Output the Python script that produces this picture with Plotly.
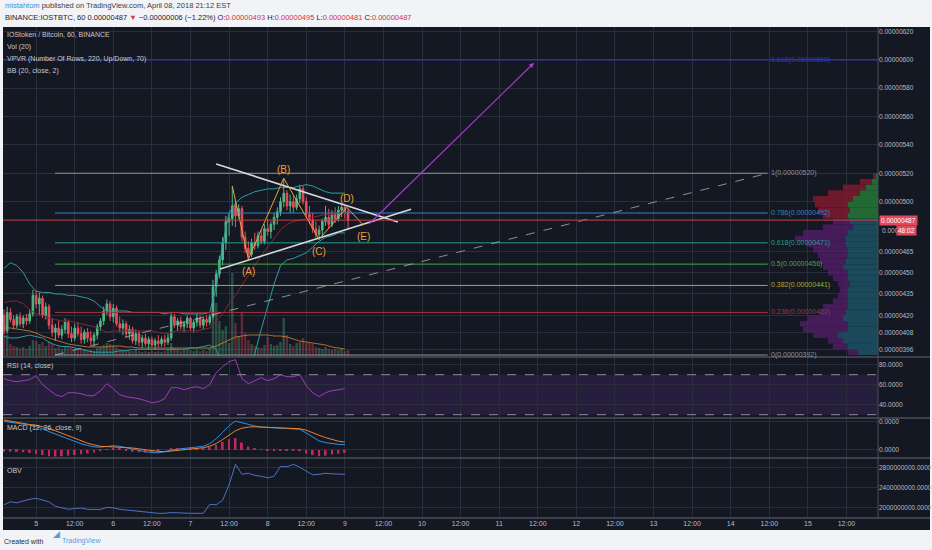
import plotly.graph_objects as go

W, H = 932, 550

# Velas de 1h; el eje x son horas desde el 5 de abril 00:00
hours = list(range(-10, 98))
opens = [420, 409, 422, 417, 413, 419, 414, 418, 416, 421,
         434, 428, 432, 420, 426, 413, 408, 411, 406, 410,
         415, 407, 404, 411, 407, 403, 408, 404, 402, 406,
         412, 416, 423, 428, 419, 425, 414, 411, 414, 407,
         410, 402, 407, 401, 404, 400, 403, 399, 402, 400,
         403, 401, 404, 419, 413, 416, 412, 414, 418, 411,
         415, 418, 413, 417, 415, 419, 440, 449, 459, 471,
         486, 488, 497, 490, 495, 475, 467, 463, 471, 469,
         476, 472, 481, 479, 484, 489, 493, 500, 506, 497,
         500, 496, 502, 509, 500, 491, 487, 481, 477, 480,
         486, 489, 484, 491, 488, 494, 496, 493]
highs = [424, 426, 425, 420, 421, 422, 420, 421, 424, 438,
         437, 436, 434, 429, 428, 418, 414, 416, 413, 418,
         417, 412, 414, 415, 412, 410, 411, 409, 408, 414,
         418, 426, 431, 430, 428, 427, 419, 417, 416, 413,
         412, 410, 409, 406, 407, 405, 405, 404, 406, 405,
         406, 407, 422, 421, 418, 419, 416, 420, 419, 417,
         421, 420, 419, 420, 421, 445, 452, 462, 475, 490,
         491, 511, 500, 498, 497, 479, 472, 474, 478, 479,
         480, 484, 488, 486, 492, 496, 503, 516, 508, 505,
         504, 505, 512, 511, 503, 497, 492, 486, 483, 488,
         497, 495, 494, 496, 497, 498, 497, 495]
lows = [407, 407, 415, 410, 411, 412, 411, 413, 414, 419,
        425, 420, 418, 417, 410, 405, 402, 404, 403, 407,
        404, 401, 402, 405, 400, 400, 401, 399, 398, 403,
        409, 413, 420, 416, 415, 412, 408, 406, 404, 403,
        400, 399, 398, 397, 398, 396, 397, 396, 397, 398,
        398, 399, 402, 411, 409, 410, 408, 411, 409, 408,
        412, 411, 410, 412, 413, 417, 433, 446, 455, 466,
        476, 483, 482, 488, 472, 464, 459, 461, 466, 467,
        470, 470, 476, 474, 480, 484, 490, 496, 494, 492,
        492, 494, 499, 498, 488, 484, 478, 474, 473, 476,
        483, 481, 482, 485, 486, 489, 488, 481]
closes = [409, 422, 417, 413, 419, 414, 418, 416, 421, 434,
          428, 432, 420, 426, 413, 408, 411, 406, 410, 415,
          407, 404, 411, 407, 403, 408, 404, 402, 406, 412,
          416, 423, 428, 419, 425, 414, 411, 414, 407, 410,
          402, 407, 401, 404, 400, 403, 399, 402, 400, 403,
          401, 404, 419, 413, 416, 412, 414, 418, 411, 415,
          418, 413, 417, 415, 419, 440, 449, 459, 471, 486,
          488, 497, 490, 495, 475, 467, 463, 471, 469, 476,
          472, 481, 479, 484, 489, 493, 500, 506, 497, 500,
          496, 502, 509, 500, 491, 487, 481, 477, 480, 486,
          489, 484, 491, 488, 494, 496, 493, 487]
volumes = [26, 21, 12, 10, 9, 8, 9, 7, 10, 16,
           15, 12, 14, 10, 15, 12, 8, 9, 7, 10,
           9, 8, 7, 6, 6, 7, 5, 6, 5, 8,
           9, 11, 13, 12, 10, 9, 7, 6, 6, 5,
           5, 6, 5, 4, 5, 4, 5, 4, 5, 4,
           5, 6, 13, 8, 6, 5, 6, 7, 6, 5,
           6, 5, 6, 5, 8, 43, 53, 35, 26, 30,
           13, 83, 33, 20, 44, 23, 16, 12, 10, 9,
           8, 11, 19, 12, 10, 11, 14, 38, 21, 12,
           10, 13, 14, 18, 13, 13, 12, 9, 8, 7,
           9, 7, 6, 7, 6, 7, 5, 6]

# Indicadores leídos cada 2 horas
ind_hours = list(range(-10, 98, 2))
vol_ma = [28, 28, 27, 26, 25, 23, 20, 18, 16, 14,
          12, 11, 10, 9, 9, 9, 9, 10, 10, 9,
          9, 8, 8, 8, 8, 8, 8, 8, 8, 8,
          8, 8, 8, 10, 13, 16, 19, 20, 21, 21,
          21, 21, 20, 20, 19, 17, 15, 14, 13, 12,
          11, 9, 8, 7]
bb_upper = [453, 457, 455, 450, 442, 437, 436, 436, 435, 435,
            434, 434, 433, 432, 430, 426, 423, 423, 423, 423,
            422, 422, 422, 422, 422, 421, 422, 422, 421, 421,
            421, 421, 422, 440, 470, 492, 499, 503, 505, 507,
            508, 509, 509, 510, 510, 510, 511, 512, 511, 509,
            507, 506, 506, 506]
bb_basis = [429, 430, 430, 428, 424, 421, 420, 418, 417, 416,
            416, 415, 414, 413, 412, 410, 408, 409, 409, 409,
            409, 409, 409, 409, 408, 407, 408, 409, 409, 409,
            409, 410, 411, 416, 421, 428, 434, 441, 448, 455,
            462, 468, 474, 480, 484, 486, 487, 488, 489, 490,
            491, 491, 492, 492]
bb_lower = [405, 404, 404, 405, 406, 405, 404, 401, 399, 398,
            398, 397, 396, 395, 394, 394, 394, 394, 395, 395,
            396, 396, 396, 396, 396, 396, 396, 396, 396, 397,
            397, 398, 399, 396, 385, 375, 372, 374, 381, 393,
            410, 426, 442, 455, 459, 460, 462, 464, 468, 472,
            475, 476, 478, 478]
rsi = [66, 64, 63, 64, 65, 69, 60, 55, 50, 48,
       52, 52, 51, 49, 49, 54, 61, 56, 50, 48,
       47, 46, 44, 42, 43, 46, 57, 57, 55, 57,
       58, 56, 60, 72, 78, 83, 85, 66, 61, 64,
       67, 64, 66, 70, 68, 68, 70, 59, 52, 48,
       52, 54, 55, 56]
macd = [10.1, 9.8, 9.4, 9.1, 8.8, 8.2, 7.5, 6.5, 5.6, 4.7,
        3.9, 3.1, 2.2, 1.6, 1.1, 1.0, 1.3, 1.5, 1.3, 0.8,
        0.2, -0.2, -0.6, -0.9, -1.0, -0.6, 0.0, 0.3, 0.5, 0.7,
        1.0, 1.3, 2.2, 4.0, 6.2, 8.6, 10.2, 9.6, 8.9, 8.5,
        8.1, 7.9, 7.8, 7.7, 7.6, 7.5, 7.3, 6.0, 4.5, 3.2,
        2.6, 2.2, 2.0, 1.9]
macd_signal = [10.6, 10.2, 9.8, 9.3, 9.0, 8.8, 8.3, 7.6, 6.8, 5.9,
               5.0, 4.2, 3.1, 2.4, 1.8, 1.3, 1.2, 1.1, 1.0, 0.9,
               0.7, 0.4, 0.1, -0.3, -0.5, -0.6, -0.4, -0.1, 0.0, 0.2,
               0.5, 0.8, 1.3, 2.3, 3.7, 5.4, 6.8, 7.7, 8.1, 8.2,
               8.1, 8.0, 7.9, 7.8, 7.7, 7.6, 7.5, 7.0, 6.0, 5.2,
               4.4, 3.7, 3.1, 2.8]
macd_hist = [-0.6, -0.6, -0.7, -0.8, -1.0, -1.4, -1.8, -2.2, -2.3, -2.2,
             -2.0, -1.8, -1.5, -1.2, -0.9, -0.4, 0.2, 0.5, 0.4, -0.2,
             -0.6, -0.8, -0.9, -0.8, -0.6, 0.0, 0.5, 0.6, 0.6, 0.6,
             0.6, 0.6, 1.0, 1.8, 2.8, 3.8, 4.2, 2.6, 1.2, 0.4,
             0.1, -0.1, -0.1, -0.2, -0.2, -0.3, -0.4, -1.2, -1.8, -2.2,
             -2.0, -1.6, -1.3, -1.0]
obv_m = [2050, 2110, 2090, 2130, 2160, 2180, 2150, 2110, 2020, 1990,
         1960, 1975, 1985, 1960, 1950, 1955, 2000, 1990, 1960, 1945,
         1935, 1925, 1900, 1885, 1880, 1880, 1895, 1890, 1880, 1880,
         1880, 1880, 2060, 2050, 2140, 2450, 2860, 2660, 2680, 2640,
         2620, 2590, 2620, 2820, 2810, 2860, 2800, 2720, 2650, 2660,
         2680, 2670, 2660, 2660]

# Perfil de volumen (VPVR)
vpvr_prices = list(range(394, 522, 4))
vpvr_up = [20, 30, 35, 40, 30, 30, 35, 32, 30, 30, 30, 30, 28, 30, 30, 35,
           32, 30, 30, 32, 32, 30, 25, 28, 30, 28, 30, 25, 18, 12, 6, 2]
vpvr_down = [10, 15, 15, 25, 45, 48, 35, 26, 25, 15, 10, 8, 12, 15, 20, 20,
             26, 30, 35, 40, 51, 45, 30, 17, 25, 32, 33, 40, 32, 23, 12, 3]

# Dibujos: Fibonacci, triángulo, onda ABCDE y objetivo
fib_ratios = ["1", "0.786", "0.618", "0.5", "0.382", "0.236", "0"]
fib_prices = [520, 492, 471, 456, 441, 422, 392]
fib_colors = ["#8f929b", "#3d7fc0", "#26a08c", "#45a948", "#a9ab2c", "#a8323b", "#8f929b"]
fib_span_h = [5.9, 227.5]
ext_ratio, ext_price = "1.618", 600
wave_names = ["", "(A)", "(B)", "(C)", "(D)", "(E)"]
wave_h = [61, 66, 77, 88, 96.6, 101.7]
wave_p = [511, 459.5, 516.5, 473.5, 496, 483.6]
tri_upper_h, tri_upper_p = [56, 112.5], [526.5, 485.7]
tri_lower_h, tri_lower_p = [57.2, 116.6], [452.6, 494.6]
target_h, target_p = [103.2, 154.8], [483.6, 597.7]
last_price = 487

price_ticks = [620, 600, 580, 560, 540, 520, 500, 465, 450, 435, 420, 408, 396]
rsi_ticks = [80, 60, 40]
obv_ticks = [2800, 2400, 2000]
time_ticks = list(range(0, 253, 12))
time_labels = ["5", "12:00", "6", "12:00", "7", "12:00", "8", "12:00", "9", "12:00",
               "10", "12:00", "11", "12:00", "12", "12:00", "13", "12:00",
               "14", "12:00", "15", "12:00"]

BG = "#141823"
GRID = "#2a2e3a"
TXT = "#b8bbc4"
FONT = "Liberation Sans, Arial, sans-serif"
UP, DOWN = "#53b987", "#eb4d5c"


def fx(p):
    return p / W


def fy(p):
    return 1 - p / H


X_DOM = [fx(3), fx(878)]

fig = go.Figure()

# Volumen (eje base y), velas en y2
vol_colors = ["rgba(83,185,135,0.35)" if c >= o else "rgba(235,77,92,0.35)"
              for o, c in zip(opens, closes)]
fig.add_trace(go.Bar(x=hours, y=volumes, marker_color=vol_colors, width=0.75,
                     marker_line_width=0, xaxis="x", yaxis="y"))
fig.add_trace(go.Scatter(x=ind_hours, y=vol_ma, mode="lines",
                         line=dict(color="rgba(230,140,40,0.75)", width=1), xaxis="x", yaxis="y"))

fig.add_trace(go.Candlestick(
    x=hours, open=opens, high=highs, low=lows, close=closes,
    increasing=dict(line=dict(color=UP, width=1), fillcolor=UP),
    decreasing=dict(line=dict(color=DOWN, width=1), fillcolor=DOWN),
    whiskerwidth=0, xaxis="x", yaxis="y2"))

# Bandas de Bollinger
fig.add_trace(go.Scatter(x=ind_hours, y=bb_basis, mode="lines",
                         line=dict(color="#7d2b33", width=1), xaxis="x", yaxis="y2"))
for serie in (bb_upper, bb_lower):
    fig.add_trace(go.Scatter(x=ind_hours, y=serie, mode="lines",
                             line=dict(color="#2a9fa3", width=1), xaxis="x", yaxis="y2"))

# Niveles de Fibonacci
for precio, color in zip(fib_prices, fib_colors):
    fig.add_trace(go.Scatter(x=fib_span_h, y=[precio, precio], mode="lines",
                             line=dict(color=color, width=1), xaxis="x", yaxis="y2"))
fig.add_trace(go.Scatter(x=fib_span_h, y=[fib_prices[-1], fib_prices[0]], mode="lines",
                         line=dict(color="rgba(190,192,200,0.7)", width=1, dash="dash"),
                         xaxis="x", yaxis="y2"))

# Triángulo y onda
for hx, py in ((tri_upper_h, tri_upper_p), (tri_lower_h, tri_lower_p)):
    fig.add_trace(go.Scatter(x=hx, y=py, mode="lines", line=dict(color="#d6d8de", width=1.6),
                             xaxis="x", yaxis="y2"))
fig.add_trace(go.Scatter(x=wave_h, y=wave_p, mode="lines", line=dict(color="#e9a23b", width=1),
                         xaxis="x", yaxis="y2"))

# VPVR a la derecha
alto = [p >= 488 for p in vpvr_prices]
fig.add_trace(go.Bar(y=vpvr_prices, x=vpvr_up, orientation="h", width=4, marker_line_width=0,
                     marker_color=["rgba(40,140,60,0.7)" if a else "rgba(28,90,110,0.75)" for a in alto],
                     xaxis="x2", yaxis="y2"))
fig.add_trace(go.Bar(y=vpvr_prices, x=vpvr_down, base=vpvr_up, orientation="h", width=4,
                     marker_line_width=0,
                     marker_color=["rgba(150,25,50,0.7)" if a else "rgba(85,28,110,0.75)" for a in alto],
                     xaxis="x2", yaxis="y2"))

# RSI, MACD, OBV
fig.add_trace(go.Scatter(x=ind_hours, y=rsi, mode="lines", line=dict(color="#9b3fb5", width=1),
                         xaxis="x", yaxis="y3"))
fig.add_trace(go.Bar(x=ind_hours, y=macd_hist, width=0.6, marker_color="#c2285f",
                     marker_line_width=0, xaxis="x", yaxis="y4"))
fig.add_trace(go.Scatter(x=ind_hours, y=macd, mode="lines", line=dict(color="#2b8fe0", width=1),
                         xaxis="x", yaxis="y4"))
fig.add_trace(go.Scatter(x=ind_hours, y=macd_signal, mode="lines", line=dict(color="#f0802a", width=1),
                         xaxis="x", yaxis="y4"))
fig.add_trace(go.Scatter(x=ind_hours, y=[v * 1e6 for v in obv_m], mode="lines",
                         line=dict(color="#4d72c4", width=1), xaxis="x", yaxis="y5"))

tickfont = dict(family=FONT, size=6.5, color=TXT)
eje_y = dict(side="right", anchor="x", showgrid=True, gridcolor=GRID, zeroline=False,
             ticks="", tickfont=tickfont, showline=False, fixedrange=True)

fig.update_layout(
    width=W, height=H, margin=dict(l=0, r=0, t=0, b=0),
    paper_bgcolor="#f1f3f7", plot_bgcolor="rgba(0,0,0,0)",
    showlegend=False, barmode="overlay", hovermode=False,
    font=dict(family=FONT),
    xaxis=dict(domain=X_DOM, range=[-10.3, 261.8], anchor="y5", tickvals=time_ticks,
               ticktext=time_labels, showgrid=True, gridcolor=GRID, zeroline=False,
               ticks="", tickfont=dict(family=FONT, size=7, color=TXT),
               rangeslider=dict(visible=False)),
    xaxis2=dict(overlaying="x", range=[875, 0], visible=False),
    yaxis=dict(domain=[fy(356), fy(27)], range=[0, 329], visible=False),
    yaxis2=dict(eje_y, overlaying="y", range=[391.3, 623], tickvals=price_ticks,
                ticktext=[f"{v / 1e8:.8f}" for v in price_ticks]),
    yaxis3=dict(eje_y, domain=[fy(418), fy(357)], range=[26.7, 87.7], tickvals=rsi_ticks,
                ticktext=[f"{v:.4f}" for v in rsi_ticks]),
    yaxis4=dict(eje_y, domain=[fy(458), fy(418)], range=[-2.83, 11.3], tickvals=[0, 10],
                ticktext=["0.0000", "0.0000"]),
    yaxis5=dict(eje_y, domain=[fy(518), fy(458)], range=[1786e6, 2986e6],
                tickvals=[v * 1e6 for v in obv_ticks],
                ticktext=[f"{v * 1e6:.4f}" for v in obv_ticks]),
)

# Fondo oscuro, relleno RSI, separadores
shapes = [
    dict(type="rect", xref="paper", yref="paper", x0=fx(3), x1=fx(930), y0=fy(530), y1=fy(27),
         fillcolor=BG, line_width=0, layer="below"),
    dict(type="rect", xref="paper", yref="y3", x0=X_DOM[0], x1=X_DOM[1], y0=30, y1=70,
         fillcolor="rgba(130,60,190,0.18)", line_width=0, layer="below"),
]
for nivel in (70, 30):
    shapes.append(dict(type="line", xref="paper", yref="y3", x0=X_DOM[0], x1=X_DOM[1], y0=nivel, y1=nivel,
                       line=dict(color="#8a8d96", width=1, dash="dash")))
for sep in (357, 418, 458, 518):
    shapes.append(dict(type="line", xref="paper", yref="paper", x0=fx(3), x1=fx(930),
                       y0=fy(sep), y1=fy(sep), line=dict(color="#4a4e5a", width=1.5)))
shapes.append(dict(type="line", xref="paper", yref="paper", x0=fx(878), x1=fx(878),
                   y0=fy(518), y1=fy(27), line=dict(color="#4a4e5a", width=1)))
shapes.append(dict(type="line", xref="paper", yref="y2", x0=X_DOM[0], x1=X_DOM[1],
                   y0=last_price, y1=last_price, line=dict(color="#c8404f", width=1)))
shapes.append(dict(type="line", xref="paper", yref="y2", x0=X_DOM[0], x1=X_DOM[1],
                   y0=ext_price, y1=ext_price, line=dict(color="#2e32a3", width=1.5)))
fig.update_layout(shapes=shapes)

anots = []


def texto(x, y, t, color=TXT, size=7, **kw):
    anots.append(dict(xref="paper", yref="paper", x=fx(x), y=fy(y), text=t, showarrow=False,
                      xanchor="left", yanchor="middle", font=dict(family=FONT, size=size, color=color), **kw))


# Cabecera
texto(3, 6, "<span style='color:#3d8fd8'>mistahtom</span> published on TradingView.com, "
            "April 08, 2018 21:12 EST", color="#3a3d45", size=7.5)
rojo = "#d8323f"
texto(3, 18, "BINANCE:IOSTBTC, 60 0.00000487 "
             f"<span style='color:{rojo}'>▼</span> −0.00000006 (−1.22%) "
             f"O:<span style='color:{rojo}'>0.00000493</span> H:<span style='color:{rojo}'>0.00000495</span> "
             f"L:<span style='color:{rojo}'>0.00000481</span> C:<span style='color:{rojo}'>0.00000487</span>",
      color="#1f2128", size=7.5)

# Leyendas de los paneles
for yy, t in ((35, "IOStoken / Bitcoin, 60, BINANCE"), (47, "Vol (20)"),
              (59, "VPVR (Number Of Rows, 220, Up/Down, 70)"), (71, "BB (20, close, 2)"),
              (366, "RSI (14, close)"), (428, "MACD (12, 26, close, 9)"), (470, "OBV")):
    texto(5, yy, t, color="#c6c9d0")

# Etiquetas Fibonacci
for r, precio, color in zip(fib_ratios, fib_prices, fib_colors):
    anots.append(dict(xref="x", yref="y2", x=fib_span_h[1], y=precio, xshift=1,
                      text=f"{r}({precio / 1e8:.8f})", showarrow=False, xanchor="left",
                      yanchor="middle", font=dict(family=FONT, size=7, color=color)))
anots.append(dict(xref="x", yref="y2", x=fib_span_h[1], y=ext_price, xshift=1,
                  text=f"{ext_ratio}({ext_price / 1e8:.8f})", showarrow=False, xanchor="left",
                  yanchor="middle", font=dict(family=FONT, size=7, color="#3236b0")))

# Etiquetas de la onda
desplaz = {"(A)": -12, "(B)": 9, "(C)": -12, "(D)": 9, "(E)": -12}
for n, hx, py in zip(wave_names, wave_h, wave_p):
    if n:
        anots.append(dict(xref="x", yref="y2", x=hx, y=py, yshift=desplaz[n], text=n,
                          showarrow=False, font=dict(family=FONT, size=10, color="#eaa23a")))

# Flecha de objetivo
anots.append(dict(xref="x", yref="y2", axref="x", ayref="y2", x=target_h[1], y=target_p[1],
                  ax=target_h[0], ay=target_p[0], text="", showarrow=True, arrowhead=2,
                  arrowsize=0.8, arrowwidth=1.2, arrowcolor="#a83ccc"))

# Precio actual y cuenta atrás
anots.append(dict(xref="paper", yref="y2", x=fx(879), y=last_price, text="0.00000487",
                  showarrow=False, xanchor="left", yanchor="middle", bgcolor="#e04a5c",
                  borderpad=1, font=dict(family=FONT, size=6.5, color="white")))
texto(880, 231, "0.000", size=6.5)
anots.append(dict(xref="paper", yref="paper", x=fx(896), y=fy(231), text="48:02", showarrow=False,
                  xanchor="left", yanchor="middle", bgcolor="#e04a5c", borderpad=1,
                  font=dict(family=FONT, size=6.5, color="white")))

# Pie
texto(2, 541, "Created with", color="#2a2d35", size=7)
texto(60, 541, "TradingView", color="#4aa3df", size=7)
anots.append(dict(xref="paper", yref="paper", x=fx(51), y=fy(541), text="◢", showarrow=False,
                  font=dict(size=9, color="#4aa3df")))

fig.update_layout(annotations=anots)

# Quitar el margen del body para que la figura ocupe toda la ventana
fig.write_html("out.html", config={"displayModeBar": False},
               post_script="document.body.style.margin='0';document.body.style.overflow='hidden';")
